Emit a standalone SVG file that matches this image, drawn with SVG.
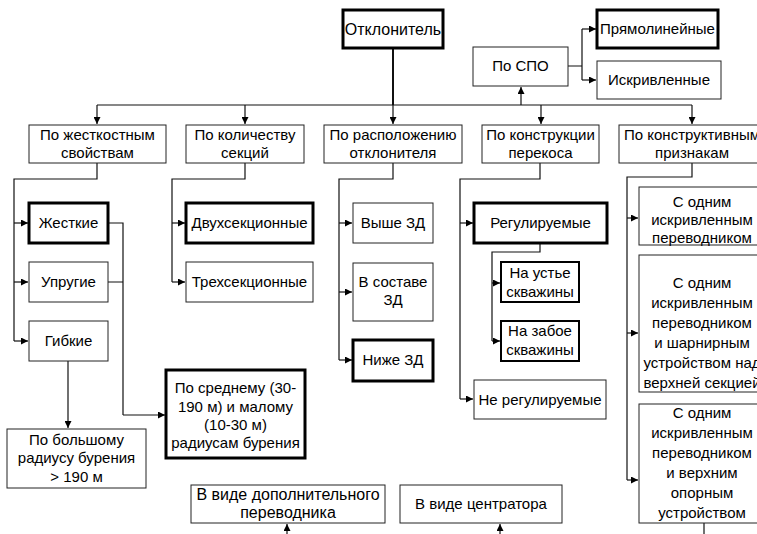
<svg xmlns="http://www.w3.org/2000/svg" width="757" height="534" viewBox="0 0 757 534">
<defs>
<marker id="ar" markerUnits="userSpaceOnUse" markerWidth="8" markerHeight="7" refX="7" refY="3.5" orient="auto">
<path d="M0,0 L7,3.5 L0,7 z" fill="#000"/>
</marker>
<style>
.b{fill:#fff;stroke:#222;stroke-width:1}
.bt{fill:#fff;stroke:#000;stroke-width:3}
.bm{fill:#fff;stroke:#000;stroke-width:2}
text{font-family:"Liberation Sans",Arial,sans-serif;font-size:15px;fill:#000;text-anchor:middle}
.lg{font-size:16px}
.c{fill:none;stroke:#111;stroke-width:1.2}
.a{fill:none;stroke:#111;stroke-width:1.2;marker-end:url(#ar)}
</style>
</defs>
<rect width="757" height="534" fill="#fff"/>
<g id="connectors">
<path class="c" d="M393,48 V105" style="stroke-width:2"/>
<path class="c" d="M97,105 H692"/>
<path class="a" d="M97,105 V124"/>
<path class="a" d="M245,105 V124"/>
<path class="a" d="M393,105 V124"/>
<path class="a" d="M541,105 V124"/>
<path class="a" d="M692,105 V124"/>
<path class="a" d="M521,105 V87"/>
<path class="c" d="M568,66 H582 M582,29 V80"/>
<path class="a" d="M582,29 H596"/>
<path class="a" d="M582,80 H596"/>
<path class="c" d="M97,163 V179 H14 V341"/>
<path class="a" d="M14,223 H28"/>
<path class="a" d="M14,282 H28"/>
<path class="a" d="M14,341 H28"/>
<path class="c" d="M108,223 H123 V415 M108,282 H123"/>
<path class="a" d="M123,415 H165"/>
<path class="a" d="M68,361 V428"/>
<path class="c" d="M245,163 V179 H172 V282"/>
<path class="a" d="M172,223 H185"/>
<path class="a" d="M172,282 H185"/>
<path class="c" d="M393,163 V179 H339 V360"/>
<path class="a" d="M339,223 H352"/>
<path class="a" d="M339,292 H352"/>
<path class="a" d="M339,360 H352"/>
<path class="c" d="M540,163 V179 H460 V399"/>
<path class="a" d="M460,223 H473"/>
<path class="a" d="M460,399 H473"/>
<path class="c" d="M540,243 V252 H492 V341"/>
<path class="a" d="M492,283 H500"/>
<path class="a" d="M492,341 H500"/>
<path class="c" d="M692,163 V177 H627 V480"/>
<path class="a" d="M627,218 H638"/>
<path class="a" d="M627,333 H638"/>
<path class="a" d="M627,480 H638"/>
<path class="a" d="M287,534 V524"/>
<path class="a" d="M500,534 V524"/>
<path class="c" d="M704,523 V534"/>
</g>
<g id="n-otklonitel"><rect class="bt" x="343" y="10" width="100" height="38"/><text class="lg" x="393" y="35">Отклонитель</text></g>
<g id="n-spo"><rect class="b" x="473" y="47" width="95" height="39"/><text x="520.5" y="71">По СПО</text></g>
<g id="n-pryam"><rect class="bt" x="597" y="10" width="121" height="38"/><text x="657.5" y="34">Прямолинейные</text></g>
<g id="n-iskr"><rect class="b" x="597" y="61" width="124" height="38"/><text x="659" y="85">Искривленные</text></g>
<g id="n-zhestk"><rect class="b" x="29" y="125" width="137" height="38"/><text x="97.5" y="140">По жесткостным</text><text x="97.5" y="158">свойствам</text></g>
<g id="n-kol"><rect class="b" x="186" y="125" width="118" height="38"/><text x="245" y="140">По количеству</text><text x="245" y="158">секций</text></g>
<g id="n-rasp"><rect class="b" x="324" y="125" width="138" height="38"/><text x="393" y="140">По расположению</text><text x="393" y="158">отклонителя</text></g>
<g id="n-konstr"><rect class="b" x="482" y="125" width="117" height="38"/><text x="540.5" y="140">По конструкции</text><text x="540.5" y="158">перекоса</text></g>
<g id="n-priznak"><rect class="b" x="619" y="125" width="146" height="38"/><text x="692" y="140">По конструктивным</text><text x="692" y="158">признакам</text></g>
<g id="n-zh"><rect class="bt" x="29" y="203" width="79" height="40"/><text x="68.5" y="228">Жесткие</text></g>
<g id="n-upr"><rect class="b" x="29" y="262" width="79" height="40"/><text x="68.5" y="287">Упругие</text></g>
<g id="n-gib"><rect class="b" x="29" y="321" width="79" height="40"/><text x="68.5" y="346">Гибкие</text></g>
<g id="n-bolsh"><rect class="b" x="7" y="429" width="139" height="59"/><text x="76.5" y="445">По большому</text><text x="76.5" y="463">радиусу бурения</text><text x="76.5" y="482">&gt; 190 м</text></g>
<g id="n-sred"><rect class="bt" x="166" y="370" width="139" height="88"/><text x="235.5" y="393">По среднему (30-</text><text x="235.5" y="411.5">190 м) и малому</text><text x="235.5" y="430">(10-30 м)</text><text x="235.5" y="448">радиусам бурения</text></g>
<g id="n-dvuh"><rect class="bt" x="186" y="203" width="127" height="40"/><text x="249.5" y="228">Двухсекционные</text></g>
<g id="n-treh"><rect class="b" x="186" y="262" width="127" height="40"/><text x="249.5" y="287">Трехсекционные</text></g>
<g id="n-vyshe"><rect class="b" x="353" y="203" width="80" height="40"/><text x="393" y="228">Выше ЗД</text></g>
<g id="n-vsost"><rect class="b" x="353" y="263" width="80" height="58"/><text x="393" y="287">В составе</text><text x="393" y="305">ЗД</text></g>
<g id="n-nizhe"><rect class="bt" x="353" y="340" width="80" height="41"/><text x="393" y="365">Ниже ЗД</text></g>
<g id="n-reg"><rect class="bt" x="474" y="203" width="133" height="40"/><text x="540.5" y="228">Регулируемые</text></g>
<g id="n-ust"><rect class="bm" x="501" y="262" width="78" height="40"/><text x="540" y="278">На устье</text><text x="540" y="297">скважины</text></g>
<g id="n-zab"><rect class="bm" x="501" y="321" width="78" height="40"/><text x="540" y="336">На забое</text><text x="540" y="355">скважины</text></g>
<g id="n-nereg"><rect class="b" x="474" y="380" width="132" height="39"/><text x="540" y="404.5">Не регулируемые</text></g>
<g id="n-c1"><rect class="b" x="639" y="187" width="126" height="58"/><text x="702" y="207">С одним</text><text x="702" y="225">искривленным</text><text x="702" y="243">переводником</text></g>
<g id="n-c2"><rect class="b" x="639" y="255" width="126" height="137"/><text x="702" y="288">С одним</text><text x="702" y="308">искривленным</text><text x="702" y="328">переводником</text><text x="702" y="348">и шарнирным</text><text x="702" y="368">устройством над</text><text x="702" y="388">верхней секцией</text></g>
<g id="n-c3"><rect class="b" x="639" y="404" width="126" height="119"/><text x="702" y="418">С одним</text><text x="702" y="438">искривленным</text><text x="702" y="458">переводником</text><text x="702" y="478">и верхним</text><text x="702" y="498">опорным</text><text x="702" y="518">устройством</text></g>
<g id="n-dop"><rect class="b" x="191" y="485" width="194" height="38"/><text class="lg" x="288" y="500">В виде дополнительного</text><text class="lg" x="288" y="518">переводника</text></g>
<g id="n-centr"><rect class="b" x="400" y="485" width="162" height="38"/><text x="481" y="509">В виде центратора</text></g>
</svg>
